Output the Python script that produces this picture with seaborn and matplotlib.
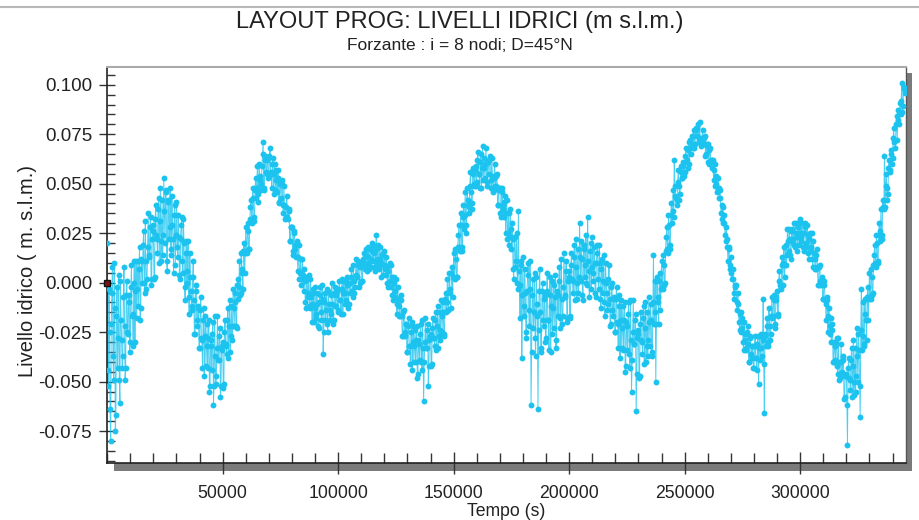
import numpy as np
import pandas as pd
import matplotlib
matplotlib.use("Agg")
import matplotlib.pyplot as plt
import seaborn as sns
from matplotlib.patches import Rectangle
from matplotlib.lines import Line2D
from matplotlib.ticker import FixedLocator, MultipleLocator, FormatStrFormatter

# ---------------- data ----------------
# Water level in mm, two interleaved sample sets:
#   set A at t = 0, 500, 1000, ... s ; set B at t = 250, 750, 1250, ... s
sample_step_s = 500
offset_b_s = 250
level_a_mm = [
    20, -52, -25, -80, -5, -37, 10, -75, -17, -43, 4, -61, -19, -43, -7, -22, -43, 1, -26, -6,
    -30, 9, -16, 0, -30, 11, -3, -12, 18, -13, 11, 19, 0, 31, -3, 18, 13, 28, -1, 22,
    29, 3, 39, 22, 37, 10, 48, 21, 14, 53, 20, 46, 6, 42, 28, 17, 44, 22, 34, 9,
    41, 13, 23, 2, 29, 11, 32, -2, 15, 0, 21, -16, 3, -14, 3, -9, -26, -1, -22, -12,
    -33, -7, -29, -19, -47, -17, -32, -43, -19, -52, -32, -26, -62, -17, -51, -33, -39, -27, -58, -34,
    -30, -51, -19, -32, -19, -38, -9, -27, -29, -3, -22, -10, -23, 2, -2, -6, 15, 5, 16, 5,
    28, 15, 26, 17, 38, 32, 48, 33, 47, 43, 59, 41, 54, 47, 59, 71, 48, 64, 55, 63,
    54, 68, 55, 60, 45, 60, 52, 46, 57, 41, 50, 50, 39, 49, 32, 38, 33, 36, 21, 28,
    28, 14, 26, 17, 20, 6, 19, 5, -1, 12, -4, 1, -13, 3, -5, -12, 2, -11, -5, -20,
    -2, -18, -11, -23, -6, -15, -1, -36, -10, -19, -3, -25, -11, -19, -6, -11, -19, -2, -12, -4,
    -14, 1, -9, -3, -16, 1, -5, -9, 3, -11, 0, 3, -4, 9, -5, 4, 3, 9, -2, 8,
    10, 1, 15, 9, 14, 6, 18, 10, 8, 20, 11, 15, 6, 24, 12, 8, 18, 10, 14, 4,
    16, 4, 8, -2, 9, 1, 9, -6, 0, -7, 2, -16, -8, -17, -9, -17, -27, -14, -27, -21,
    -35, -18, -32, -25, -44, -22, -32, -40, -22, -46, -31, -26, -40, -19, -60, -30, -33, -24, -52, -29,
    -26, -41, -18, -28, -19, -34, -12, -27, -29, -9, -25, -15, -27, -5, -10, -14, 5, -5, 5, -7,
    15, 2, 12, 3, 24, 18, 35, 18, 33, 27, 46, 25, 42, 35, 49, 46, 40, 58, 50, 59,
    51, 66, 55, 61, 48, 69, 58, 53, 68, 51, 61, 62, 52, 63, 46, 53, 49, 54, 39, 47,
    48, 33, 48, 37, 41, 25, 42, 25, 19, 37, 17, 22, 2, 23, 11, 0, 36, -1, 9, -38,
    13, -17, -5, -28, 4, -14, 11, -62, -6, -23, 5, -37, -11, -64, -4, -15, -33, 0, -22, -6,
    -28, 5, -19, -6, -35, 1, -13, -23, 4, -29, -6, 1, -18, 12, -21, -2, -7, 6, -20, 1,
    6, -17, 15, 1, 13, -9, 22, 0, -5, 30, 1, 12, -9, 19, 9, 0, 33, 6, 16, -3,
    23, 1, 10, -7, 15, 2, 19, -8, 7, -5, 14, -17, 0, -14, 2, -8, -21, 0, -17, -7,
    -25, -2, -21, -12, -38, -9, -23, -34, -10, -42, -22, -16, -36, -9, -55, -25, -31, -19, -65, -28,
    -24, -47, -15, -30, -18, -41, -10, -32, -37, -7, -32, -19, -37, 14, -15, -50, 3, -10, 1, -14,
    11, -3, 9, 0, 23, 17, 34, 19, 34, 30, 47, 62, 44, 39, 51, 49, 45, 59, 53, 61,
    56, 68, 62, 67, 60, 72, 70, 68, 77, 70, 78, 78, 72, 81, 69, 73, 71, 73, 64, 69,
    70, 60, 68, 61, 62, 52, 60, 50, 46, 53, 43, 43, 32, 38, 30, 24, 28, 18, 18, 7,
    13, 2, 2, -8, -1, -10, -5, -20, -16, -25, -18, -34, -26, -34, -25, -31, -40, -27, -38, -32,
    -43, -27, -38, -31, -51, -27, -33, -37, -8, -66, -27, -22, -30, -13, -29, -17, -18, -9, -23, -9,
    -4, -16, 6, -1, 9, -1, 18, 9, 9, 27, 16, 22, 12, 27, 22, 19, 30, 23, 28, 19,
    32, 21, 25, 16, 28, 20, 29, 15, 22, 16, 25, 8, 15, 7, 14, 8, -1, 9, -1, 2,
    -8, 1, -11, -9, -25, -13, -22, -30, -21, -40, -32, -30, -42, -28, -49, -40, -45, -39, -59, -47,
    -46, -82, -38, -49, -39, -58, -29, -50, -55, -23, -50, -34, -68, -3, -27, -32, -8, -19, -7, -19,
    5, -8, 3, -5, 14, 10, 24, 11, 24, 21, 37, 22, 38, 64, 49, 48, 45, 62, 57, 67,
    63, 78, 72, 80, 72, 87, 85, 85, 101, 89, 99,
]
level_b_mm = [
    -44, -3, -64, -21, 8, -49, -13, -67, -2, -28, -49, 1, -29, -37, 8, -49, -6, -25, -10, -35,
    -2, -17, -32, 11, -4, -18, 11, 7, -19, 12, 0, 26, -5, 11, 2, 35, 14, 33, 2, 26,
    2, 32, 24, 15, 43, 31, 11, 42, 24, 36, 47, 11, 41, 22, 48, 14, 29, 5, 39, 24,
    18, 34, 4, 22, 33, 5, 20, -9, 21, 6, -7, 15, -4, -12, 11, -26, -4, -19, -13, -33,
    -14, -28, -43, -13, -27, -42, -21, -28, -55, -29, -44, -20, -52, -37, -47, -17, -39, -23, -52, -32,
    -53, -25, -31, -36, -13, -22, -35, -12, -22, -13, -5, -22, -1, -8, 11, -5, 7, -3, 20, 15,
    16, 30, 17, 32, 42, 30, 43, 31, 53, 48, 45, 60, 52, 50, 65, 47, 62, 56, 62, 53,
    64, 56, 48, 63, 55, 47, 57, 53, 40, 51, 43, 52, 35, 39, 33, 44, 32, 37, 21, 28,
    16, 25, 19, 13, 21, 13, 2, 12, 2, 4, 7, -10, 2, -7, 4, -13, -7, -20, -3, -13,
    -16, -5, -22, -10, -2, -19, -8, -25, -5, -14, -21, -4, -14, -16, 0, -21, -5, -12, -6, -15,
    -3, -9, -16, 2, -5, -11, 1, -1, -13, 0, -5, 7, -7, 1, -2, 12, 3, 11, 0, 9,
    1, 12, 10, 7, 17, 13, 7, 17, 12, 16, 19, 8, 17, 10, 19, 7, 12, 3, 15, 9,
    7, 13, 0, 6, 10, -2, 3, -9, 3, -4, -11, -2, -12, -17, -6, -27, -15, -25, -21, -35,
    -22, -32, -41, -20, -30, -40, -24, -29, -48, -29, -39, -21, -44, -33, -40, -18, -33, -21, -42, -27,
    -42, -23, -28, -32, -15, -22, -33, -15, -24, -17, -10, -26, -8, -15, 2, -14, -3, -13, 8, 3,
    3, 17, 3, 18, 29, 16, 29, 16, 39, 34, 29, 48, 39, 38, 56, 37, 55, 49, 57, 49,
    62, 55, 48, 65, 58, 52, 63, 60, 49, 62, 55, 64, 48, 54, 47, 60, 49, 55, 39, 48,
    35, 46, 39, 33, 44, 35, 22, 35, 23, 27, 30, 7, 23, 8, 25, -3, 6, -18, 11, -6,
    -12, 7, -25, -4, 10, -22, -3, -35, 2, -15, -28, 3, -17, -24, 7, -35, -4, -19, -8, -30,
    -4, -19, -34, 3, -12, -26, -1, -7, -33, -4, -17, 8, -23, -8, -17, 15, -6, 11, -18, 3,
    -18, 9, 2, -5, 19, 8, -8, 17, 3, 13, 21, -6, 17, 3, 24, -1, 11, -7, 20, 8,
    5, 18, -5, 10, 19, -3, 10, -13, 12, 1, -10, 10, -5, -11, 9, -22, -2, -14, -8, -25,
    -8, -20, -33, -6, -19, -33, -12, -19, -45, -20, -34, -10, -43, -29, -39, -9, -31, -16, -46, -26,
    -48, -21, -29, -36, -12, -23, -40, -15, -29, -20, -11, -35, -10, -21, 1, -21, -7, -21, 5, -3,
    -2, 14, -1, 16, 28, 15, 29, 17, 40, 36, 33, 49, 43, 42, 57, 42, 56, 53, 59, 54,
    64, 61, 58, 71, 68, 65, 74, 74, 68, 77, 74, 80, 71, 73, 70, 77, 70, 74, 65, 70,
    61, 67, 62, 58, 62, 57, 49, 54, 47, 48, 47, 35, 39, 30, 34, 21, 22, 11, 17, 9,
    5, 7, -5, -2, -1, -14, -11, -24, -15, -23, -30, -20, -29, -33, -22, -40, -28, -36, -32, -43,
    -32, -38, -44, -27, -33, -39, -26, -29, -41, -26, -32, -18, -32, -22, -26, -7, -17, -6, -21, -7,
    -17, 1, -1, -3, 13, 10, 3, 19, 14, 21, 27, 14, 26, 20, 30, 18, 25, 16, 30, 25,
    23, 30, 18, 25, 30, 18, 24, 12, 25, 18, 12, 21, 12, 7, 17, -1, 8, 1, 3, -8,
    -1, -9, -19, -7, -17, -26, -18, -24, -40, -30, -39, -28, -46, -40, -48, -31, -46, -37, -58, -47,
    -62, -43, -48, -54, -33, -42, -57, -33, -47, -37, -26, -52, -24, -34, -10, -31, -16, -29, -2, -8,
    -7, 7, -6, 9, 19, 8, 20, 10, 30, 26, 24, 42, 37, 38, 55, 42, 58, 56, 65, 60,
    73, 71, 68, 84, 82, 80, 91, 92, 86, 98, 96,
]

origin_marker_t = [0]
origin_marker_v = [0.0]

title = "LAYOUT PROG: LIVELLI IDRICI (m s.l.m.)"
subtitle = "Forzante : i = 8 nodi; D=45°N"
xlabel = "Tempo (s)"
ylabel = "Livello idrico ( m. s.l.m.)"
xticks = [50000, 100000, 150000, 200000, 250000, 300000]
yticks = [-0.075, -0.050, -0.025, 0.000, 0.025, 0.050, 0.075, 0.100]

# interleave the two sample sets in time order
n = len(level_a_mm)
t_a = np.arange(n) * sample_step_s
t_b = t_a + offset_b_s
time_s = np.empty(2 * n)
level_m = np.empty(2 * n)
time_s[0::2], time_s[1::2] = t_a, t_b
level_m[0::2] = np.array(level_a_mm) / 1000.0
level_m[1::2] = np.array(level_b_mm) / 1000.0
df = pd.DataFrame({"t": time_s, "v": level_m})

# ---------------- style ----------------
sns.set_style("white")
plt.rcParams["font.family"] = ["Liberation Sans", "DejaVu Sans"]
plt.rcParams["axes.unicode_minus"] = False

W, H = 919, 520
fig = plt.figure(figsize=(W / 100, H / 100), dpi=100)
fig.patch.set_facecolor("white")

L, R, T, B = 107.2, 905.7, 66.7, 463.0
ax = fig.add_axes([L / W, 1 - B / H, (R - L) / W, (B - T) / H])
ax.set_facecolor("white")
ax.set_zorder(1)

# drop shadow of the plot frame
fig.add_artist(Rectangle((114 / W, 1 - 471 / H), (912 - 114) / W, (471 - 73) / H,
                         transform=fig.transFigure, facecolor="#7b7b7b",
                         edgecolor="none", zorder=0))
# thin rule at the top of the figure
fig.add_artist(Line2D([0, 1], [1 - 6.7 / H] * 2, transform=fig.transFigure,
                      color="#b8b8b8", lw=1.5))

col = "#1cc3ef"
sns.lineplot(data=df, x="t", y="v", ax=ax, color=col, lw=0.7, alpha=0.8,
             estimator=None, sort=False, legend=False)
sns.scatterplot(data=df, x="t", y="v", ax=ax, color=col, s=18, linewidth=0,
                legend=False, zorder=3)
ax.plot(origin_marker_t, origin_marker_v, marker="s", ms=5, mfc="#7a1414",
        mec="#111111", mew=1, ls="none", clip_on=False, zorder=6)

ax.set_xlim(0, 345700)
ax.set_ylim(-0.0911, 0.1091)

ax.xaxis.set_major_locator(FixedLocator(xticks))
ax.xaxis.set_minor_locator(MultipleLocator(10000))
ax.yaxis.set_major_locator(FixedLocator(yticks))
ax.yaxis.set_minor_locator(MultipleLocator(0.005))
ax.yaxis.set_major_formatter(FormatStrFormatter("%.3f"))

tick_col = "#333333"
ax.tick_params(axis="x", which="both", bottom=True, top=False)
ax.tick_params(axis="y", which="both", left=True, right=False)
ax.tick_params(axis="x", which="major", direction="inout", length=16, width=1,
               color=tick_col, labelcolor="#222222", labelsize=12.7, pad=8)
ax.tick_params(axis="x", which="minor", direction="in", length=7, width=1,
               color=tick_col)
ax.tick_params(axis="y", which="major", direction="inout", length=11, width=1,
               color=tick_col, labelcolor="#222222", labelsize=13.5, pad=5.3)
ax.tick_params(axis="y", which="minor", direction="in", length=5.5, width=1,
               color=tick_col)

for side, c, lw in [("left", "#222222", 1.2), ("bottom", "#222222", 1.2),
                    ("right", "#555555", 1.0), ("top", "#aaaaaa", 1.5)]:
    ax.spines[side].set_visible(True)
    ax.spines[side].set_color(c)
    ax.spines[side].set_linewidth(lw)

ax.set_xlabel(xlabel, fontsize=12.7, color="#222222")
ax.set_ylabel(ylabel, fontsize=14.5, color="#222222")
ax.xaxis.label.set_va("center")
ax.yaxis.label.set_va("center")
ax.xaxis.set_label_coords(0.5, (B - 511.5) / (B - T))
ax.yaxis.set_label_coords((27 - L) / (R - L), (B - 271) / (B - T))

fig.text(0.5, 1 - 22 / H, title, ha="center", va="center", fontsize=17,
         color="#222222")
fig.text(0.5, 1 - 45 / H, subtitle, ha="center", va="center", fontsize=12.5,
         color="#222222")

fig.savefig("out.png", dpi=100)
